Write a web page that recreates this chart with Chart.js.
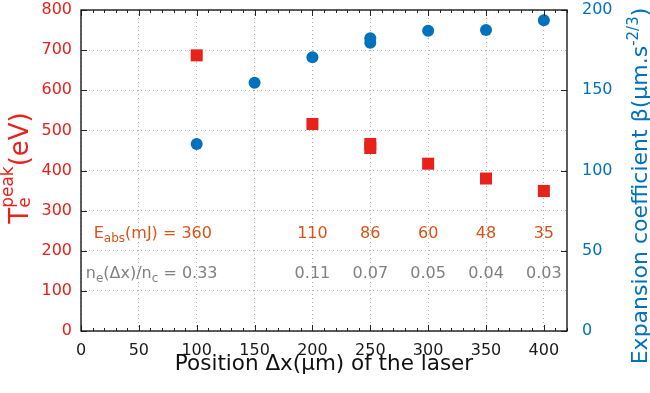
<!DOCTYPE html>
<html>
<head>
<meta charset="utf-8">
<script src="https://cdn.jsdelivr.net/npm/chart.js@4.4.1/dist/chart.umd.min.js"></script>
<style>
  html, body { margin: 0; padding: 0; background: #fff; }
  #wrap { width: 650px; height: 393px; }
</style>
</head>
<body>
<div id="wrap"><canvas id="chart"></canvas></div>
<script>
// peak electron temperature (left axis)
const tempX = [100, 200, 250, 250, 300, 350, 400];
const tempPeak = [687, 516, 466, 456, 417, 380, 349];
// expansion coefficient (right axis)
const betaX = [100, 150, 200, 250, 250, 300, 350, 400];
const betaCoef = [116.5, 154.7, 170.5, 182.4, 179.6, 187.1, 187.5, 193.6];
// annotations per laser position
const noteX = [100, 200, 250, 300, 350, 400];
const eAbs = ['360', '110', '86', '60', '48', '35'];
const density = ['0.33', '0.11', '0.07', '0.05', '0.04', '0.03'];
// x tick labels
const xTicks = [0, 50, 100, 150, 200, 250, 300, 350, 400];

const FONT = '"DejaVu Sans", sans-serif';
const RED = '#e8221b';
const BLUE = '#0072bd';
const ORANGE = '#d95319';
const GREY = '#808080';

// draw text pieces in a row: [text, size, dy, noAdvance]
function drawPieces(ctx, pieces, x, y, color) {
  ctx.fillStyle = color;
  ctx.textBaseline = 'alphabetic';
  ctx.textAlign = 'left';
  let cx = x;
  for (const p of pieces) {
    ctx.font = p[1] + 'px ' + FONT;
    ctx.fillText(p[0], cx, y + p[2]);
    if (!p[3]) cx += ctx.measureText(p[0]).width;
  }
  return cx;
}
function piecesWidth(ctx, pieces) {
  let w = 0;
  for (const p of pieces) {
    ctx.font = p[1] + 'px ' + FONT;
    if (!p[3]) w += ctx.measureText(p[0]).width;
  }
  return w;
}

const overlay = {
  id: 'overlay',
  afterDraw(chart) {
    const { ctx, chartArea: a, scales } = chart;
    const x = scales.x, yT = scales.yT, yB = scales.yB;
    ctx.save();
    ctx.strokeStyle = '#262626';
    ctx.lineWidth = 1;
    ctx.beginPath();
    for (let v = 0; v <= 420; v += 10) {
      const px = Math.round(x.getPixelForValue(v)) + 0.5;
      const len = v % 50 === 0 ? 6 : 3;
      ctx.moveTo(px, a.bottom); ctx.lineTo(px, a.bottom - len);
      ctx.moveTo(px, a.top); ctx.lineTo(px, a.top + len);
    }
    for (let v = 0; v <= 800; v += 100) {
      const py = Math.round(yT.getPixelForValue(v)) + 0.5;
      ctx.moveTo(a.left, py); ctx.lineTo(a.left + 6, py);
    }
    for (let v = 0; v <= 200; v += 50) {
      const py = Math.round(yB.getPixelForValue(v)) + 0.5;
      ctx.moveTo(a.right, py); ctx.lineTo(a.right - 6, py);
    }
    ctx.stroke();
    ctx.lineWidth = 1.4;
    ctx.strokeStyle = '#1a1a1a';
    ctx.strokeRect(a.left, a.top, a.right - a.left, a.bottom - a.top);

    // annotation rows
    const yE = yT.getPixelForValue(232);
    const yN = yT.getPixelForValue(132);
    ctx.textBaseline = 'alphabetic';
    noteX.forEach((v, i) => {
      const px = x.getPixelForValue(v);
      const pn0 = i === 0 ? px + 3 : px;
      ctx.font = '16px ' + FONT;
      ctx.textAlign = 'center';
      ctx.fillStyle = ORANGE;
      ctx.fillText(eAbs[i], px, yE);
      ctx.fillStyle = GREY;
      ctx.fillText(density[i], pn0, yN);
      if (i === 0) {
        ctx.font = '16px ' + FONT;
        const w1 = ctx.measureText(eAbs[0]).width / 2;
        const pe = [['E', 16, 0], ['abs', 12, 4], ['(mJ) = ', 16, 0]];
        drawPieces(ctx, pe, px - w1 - piecesWidth(ctx, pe), yE, ORANGE);
        ctx.font = '16px ' + FONT;
        const w2 = ctx.measureText(density[0]).width / 2;
        const pn = [['n', 16, 0], ['e', 12, 4], ['(\u0394x)/n', 16, 0], ['c', 12, 4], [' = ', 16, 0]];
        drawPieces(ctx, pn, pn0 - w2 - piecesWidth(ctx, pn), yN, GREY);
      }
    });

    // x title
    ctx.font = '21.5px ' + FONT;
    ctx.textAlign = 'center';
    ctx.fillStyle = '#111';
    ctx.fillText('Position \u0394x(\u03bcm) of the laser', 324, 370);

    // left title
    ctx.save();
    ctx.translate(28, 168);
    ctx.rotate(-Math.PI / 2);
    const lp = [['T', 26, 0], ['e', 17, 2, true], ['peak', 17, -15], ['(eV)', 26, 0]];
    drawPieces(ctx, lp, -piecesWidth(ctx, lp) / 2, 0, RED);
    ctx.restore();

    // right title
    ctx.save();
    ctx.translate(647, 186);
    ctx.rotate(-Math.PI / 2);
    const rp = [['Expansion coefficient \u03b2(\u03bcm.s', 22, 0], ['-2/3', 15, -9], [')', 22, 0]];
    drawPieces(ctx, rp, -piecesWidth(ctx, rp) / 2, 0, BLUE);
    ctx.restore();
    ctx.restore();
  }
};

const fitY = w => s => { s.width = w; s.paddingTop = 0; s.paddingBottom = 0; };

new Chart(document.getElementById('chart'), {
  type: 'scatter',
  data: {
    datasets: [{
      label: 'Te peak',
      yAxisID: 'yT',
      data: tempX.map((v, i) => ({ x: v, y: tempPeak[i] })),
      pointStyle: 'rect',
      pointRadius: 8.5,
      backgroundColor: RED,
      borderWidth: 0
    }, {
      label: 'beta',
      yAxisID: 'yB',
      data: betaX.map((v, i) => ({ x: v, y: betaCoef[i] })),
      pointStyle: 'circle',
      pointRadius: 6,
      backgroundColor: BLUE,
      borderWidth: 0
    }]
  },
  options: {
    responsive: true,
    maintainAspectRatio: false,
    animation: false,
    layout: { padding: { top: 10, left: 0, right: 0, bottom: 0 } },
    plugins: { legend: { display: false }, tooltip: { enabled: false } },
    scales: {
      x: {
        type: 'linear',
        min: 0, max: 420,
        ticks: { color: '#1a1a1a', font: { family: FONT, size: 16 }, padding: 10, maxRotation: 0 },
        grid: { color: '#b4b4b4', drawTicks: false },
        border: { display: false, dash: [1, 3] },
        afterBuildTicks: s => { s.ticks = xTicks.map(v => ({ value: v })); },
        afterFit: s => { s.height = 62; s.paddingLeft = 0; s.paddingRight = 0; }
      },
      yT: {
        position: 'left',
        min: 0, max: 800,
        ticks: { stepSize: 100, color: RED, font: { family: FONT, size: 16 }, padding: 9 },
        grid: { color: '#b4b4b4', drawTicks: false },
        border: { display: false, dash: [1, 3] },
        afterFit: fitY(81)
      },
      yB: {
        position: 'right',
        min: 0, max: 200,
        ticks: { stepSize: 50, color: BLUE, font: { family: FONT, size: 16 }, padding: 15 },
        grid: { drawOnChartArea: false, drawTicks: false },
        border: { display: false },
        afterFit: fitY(83)
      }
    }
  },
  plugins: [overlay]
});
</script>
</body>
</html>
